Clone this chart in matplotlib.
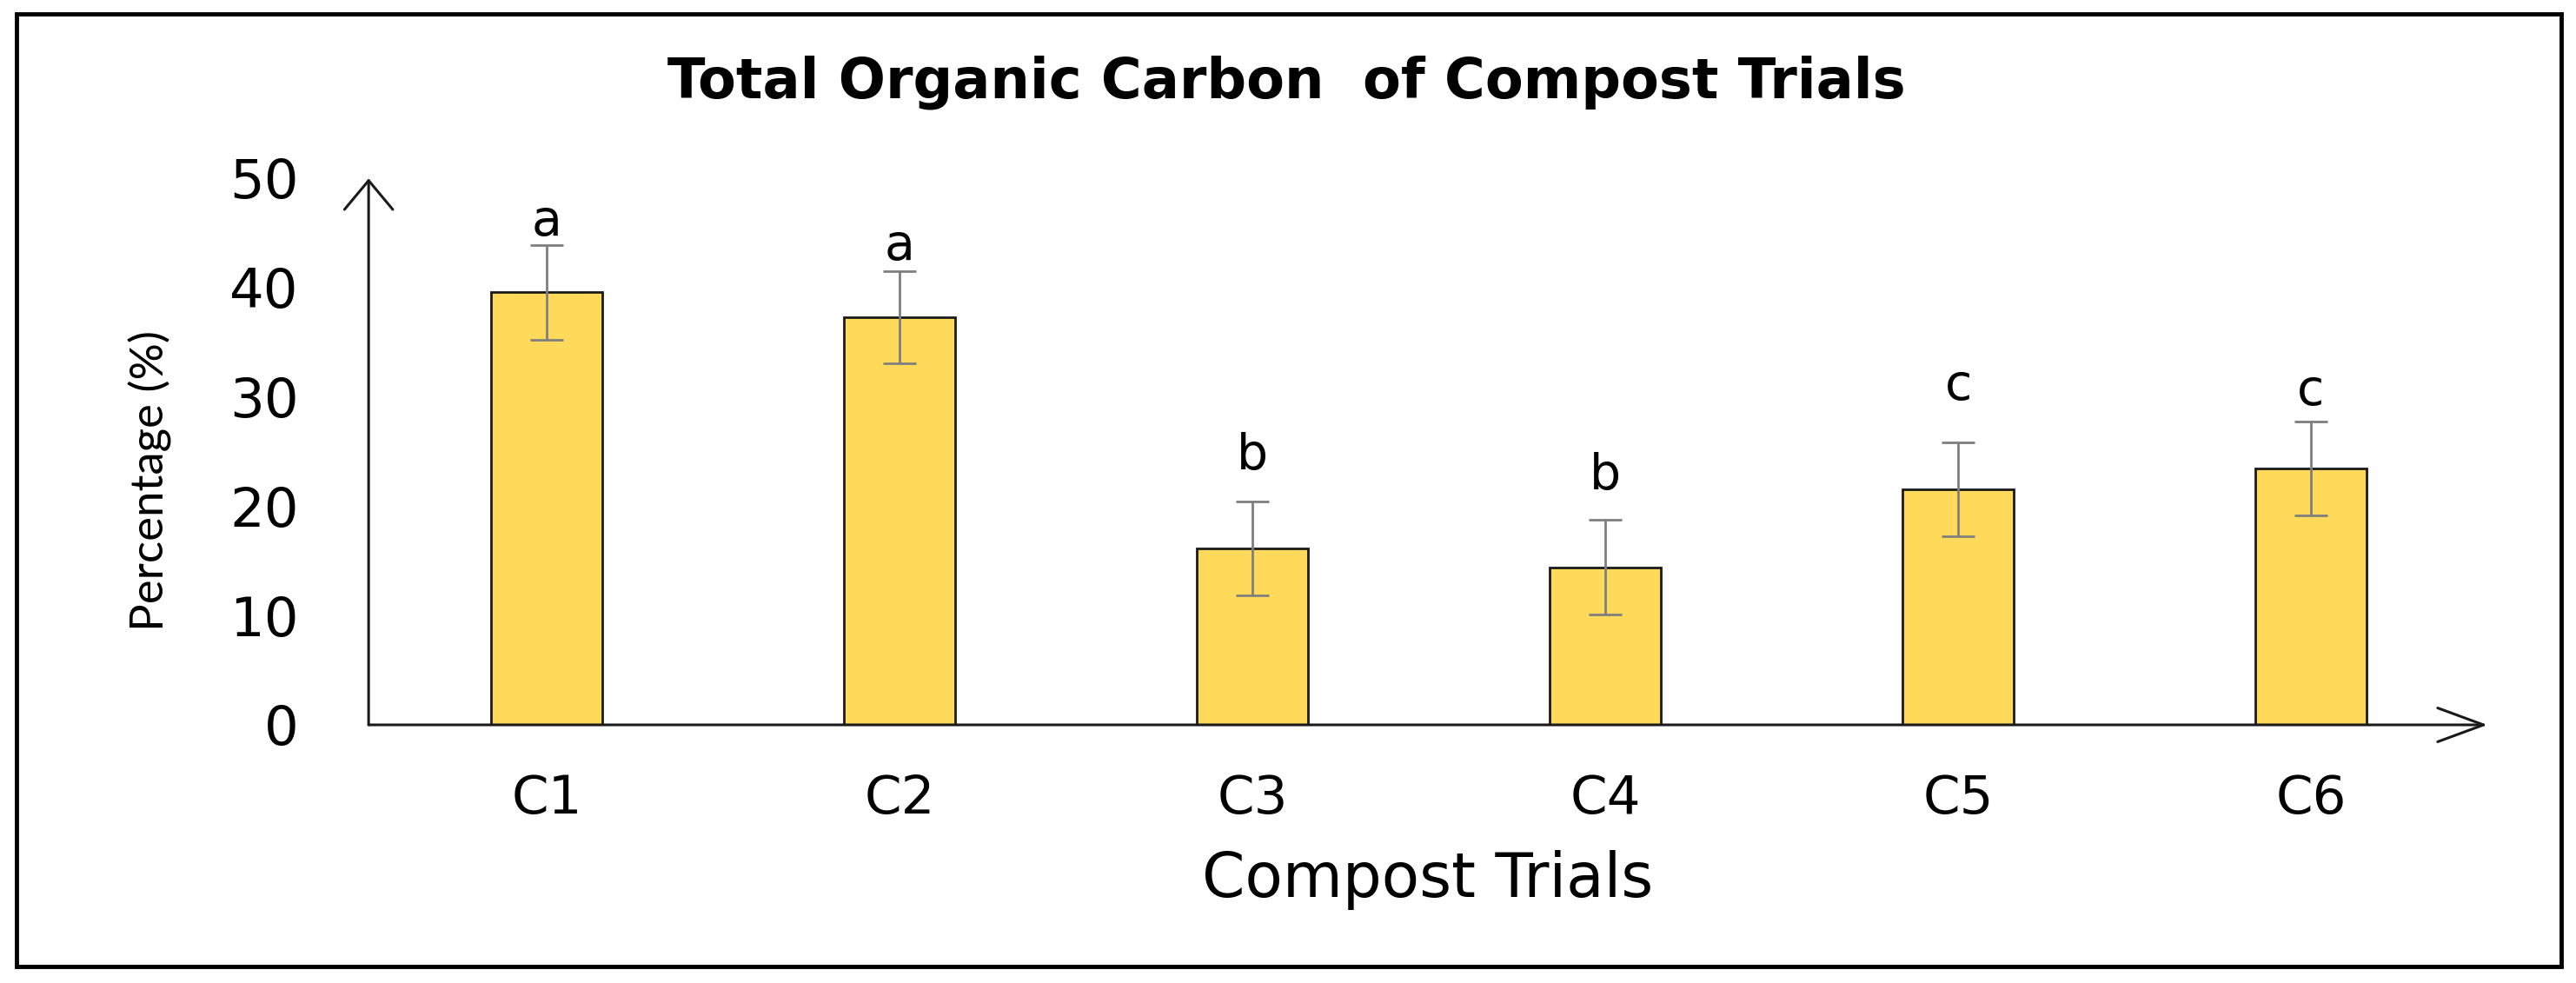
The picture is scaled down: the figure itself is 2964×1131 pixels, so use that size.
import matplotlib.pyplot as plt
from matplotlib.patches import Rectangle

# data
trials = ['C1', 'C2', 'C3', 'C4', 'C5', 'C6']
toc = [39.5, 37.2, 16.1, 14.4, 21.5, 23.4]
toc_err = [4.3, 4.2, 4.3, 4.3, 4.3, 4.3]
groups = ['a', 'a', 'b', 'b', 'c', 'c']
group_y = [45.9, 43.7, 24.6, 22.7, 30.9, 30.4]
yticks = [0, 10, 20, 30, 40, 50]

fig = plt.figure(figsize=(29.64, 11.31), dpi=100)
ax = fig.add_axes([0.1431, 0.2626, 0.8225, 0.557])

x = list(range(len(trials)))
ax.bar(x, toc, width=0.315, color='#FFD95A', edgecolor='#1a1a1a', linewidth=2, zorder=2)
ax.errorbar(x, toc, yerr=toc_err, fmt='none', ecolor='#7f7f7f', elinewidth=2,
            capsize=14, capthick=2, zorder=3)

for xi, g, gy in zip(x, groups, group_y):
    ax.text(xi, gy, g, ha='center', va='center', fontsize=41, family='DejaVu Sans')

ax.set_xlim(-0.505, 5.5)
ax.set_ylim(0, 50)
for s in ax.spines.values():
    s.set_visible(False)

ax.set_xticks(x)
ax.set_xticklabels(trials, fontsize=44)
ax.set_yticks(yticks)
ax.tick_params(axis='both', length=0)
ax.tick_params(axis='y', pad=58, labelsize=45)
ax.tick_params(axis='x', pad=40)

# axis lines with open arrow heads
ax.annotate('', xy=(5.5, 0), xytext=(-0.505, 0), xycoords='data',
            arrowprops=dict(arrowstyle='->,head_length=3.8,head_width=1.4',
                            color='#1a1a1a', lw=2.2, shrinkA=0, shrinkB=0),
            annotation_clip=False, zorder=4)
ax.annotate('', xy=(-0.505, 49.9), xytext=(-0.505, 0), xycoords='data',
            arrowprops=dict(arrowstyle='->,head_length=2.4,head_width=2.0',
                            color='#1a1a1a', lw=2.2, shrinkA=0, shrinkB=0),
            annotation_clip=False, zorder=4)

fig.text(0.4993, 0.916, 'Total Organic Carbon  of Compost Trials', ha='center', va='center',
         fontsize=46, fontweight='bold', family='DejaVu Sans')
fig.text(0.5543, 0.1052, 'Compost Trials', ha='center', va='center', fontsize=51,
         family='DejaVu Sans')
fig.text(0.0585, 0.511, 'Percentage (%)', ha='center', va='center', rotation=90,
         rotation_mode='anchor', fontsize=38, family='Lato')

# outer frame
fig.patches.append(Rectangle((0.0064, 0.0168), 0.9879, 0.9691, transform=fig.transFigure,
                             fill=False, edgecolor='black', linewidth=3.5))

fig.savefig('out.png', dpi=100)
